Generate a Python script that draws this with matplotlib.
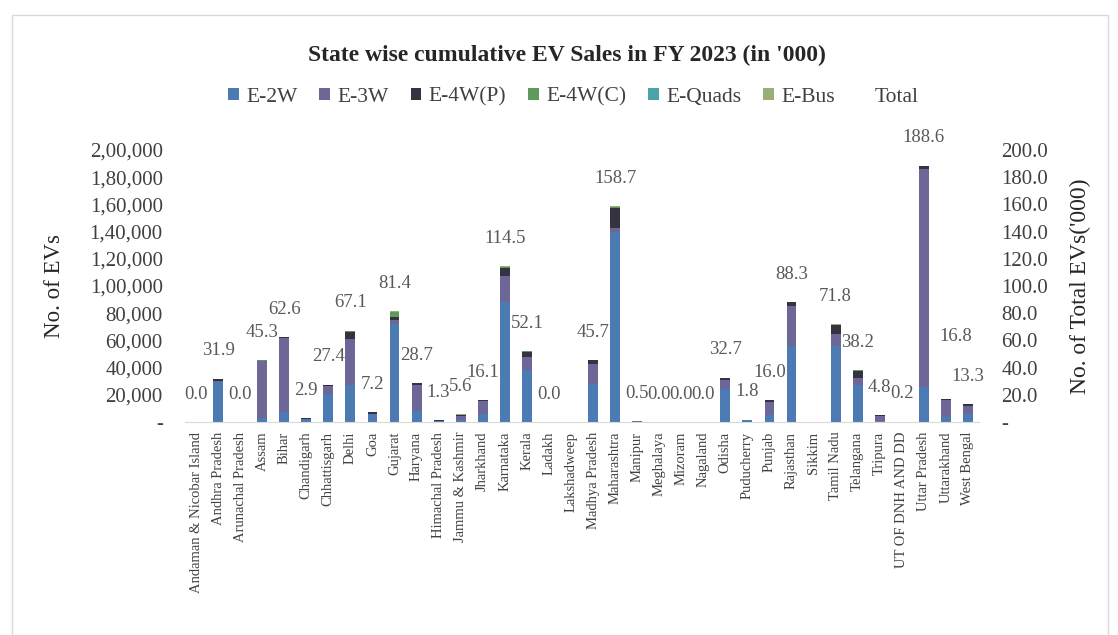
import matplotlib
matplotlib.use("Agg")
import matplotlib.pyplot as plt
from matplotlib.patches import Rectangle, Patch
from matplotlib.lines import Line2D
from matplotlib.ticker import FixedLocator, FuncFormatter
import numpy as np

plt.rcParams['font.family'] = ['Liberation Serif', 'DejaVu Serif']

states = [
    "Andaman & Nicobar Island", "Andhra Pradesh", "Arunachal Pradesh", "Assam",
    "Bihar", "Chandigarh", "Chhattisgarh", "Delhi", "Goa", "Gujarat", "Haryana",
    "Himachal Pradesh", "Jammu & Kashmir", "Jharkhand", "Karnataka", "Kerala",
    "Ladakh", "Lakshadweep", "Madhya Pradesh", "Maharashtra", "Manipur",
    "Meghalaya", "Mizoram", "Nagaland", "Odisha", "Puducherry", "Punjab",
    "Rajasthan", "Sikkim", "Tamil Nadu", "Telangana", "Tripura",
    "UT OF DNH AND DD", "Uttar Pradesh", "Uttarakhand", "West Bengal",
]

# Units sold per segment
e_2w = [8, 29300, 10, 2600, 7200, 2000, 20300, 27500, 5600, 72000, 8000,
        600, 1200, 6000, 88000, 38000, 10, 0, 28000, 140000, 300,
        10, 20, 10, 24000, 1500, 5000, 56000, 0, 56000, 27500, 600,
        150, 26000, 3500, 6000]
e_3w = [0, 1100, 0, 42000, 54500, 450, 6200, 33400, 150, 3000, 19100,
        100, 3500, 9500, 19000, 9800, 0, 0, 14500, 2600, 100,
        0, 0, 0, 7200, 100, 9900, 29500, 0, 9000, 5000, 4000,
        0, 159900, 12500, 6000]
e_4wp = [12, 1300, 20, 600, 800, 400, 800, 5600, 1400, 2400, 1400,
         550, 800, 550, 6400, 4000, 20, 0, 3000, 14600, 100,
         20, 10, 10, 1400, 200, 1000, 2500, 0, 6000, 5000, 200,
         50, 2500, 750, 1250]
e_4wc = [0, 100, 0, 50, 50, 0, 50, 400, 50, 3800, 100,
         0, 0, 50, 700, 200, 0, 0, 100, 900, 0,
         0, 0, 0, 50, 0, 0, 200, 0, 500, 400, 0,
         0, 100, 0, 0]
e_quads = [0] * 36
e_bus = [0, 100, 0, 50, 50, 50, 50, 200, 0, 200, 100,
         50, 100, 0, 400, 100, 0, 0, 100, 600, 0,
         0, 0, 0, 50, 0, 100, 100, 0, 300, 300, 0,
         0, 100, 50, 50]

# Total in thousands (None where no figure is reported)
total_k = [0.0, 31.9, 0.0, 45.3, 62.6, 2.9, 27.4, 67.1, 7.2, 81.4, 28.7,
           1.3, 5.6, 16.1, 114.5, 52.1, 0.0, None, 45.7, 158.7, 0.5,
           0.0, 0.0, 0.0, 32.7, 1.8, 16.0, 88.3, None, 71.8, 38.2, 4.8,
           0.2, 188.6, 16.8, 13.3]

series = [
    ("E-2W", e_2w, "#4C7AB2"),
    ("E-3W", e_3w, "#6C6797"),
    ("E-4W(P)", e_4wp, "#34333F"),
    ("E-4W(C)", e_4wc, "#5E9A5C"),
    ("E-Quads", e_quads, "#4BA3A8"),
    ("E-Bus", e_bus, "#9AAE78"),
]

left_ticks = list(range(0, 200001, 20000))
right_ticks = list(range(0, 201, 20))

W, H = 1118, 635
fig = plt.figure(figsize=(W / 100, H / 100), dpi=100)

# chart-area frame
fig.patches.append(Rectangle((12 / W, -0.01), (W - 22) / W, 1 - 15 / H + 0.01,
                             transform=fig.transFigure, fill=False,
                             edgecolor="#D9D9D9", linewidth=1.0))

ax = fig.add_axes([185 / W, 1 - 422 / H, 794 / W, 272 / H])
x = np.arange(len(states))
bottom = np.zeros(len(states))
for name, vals, col in series:
    v = np.array(vals, dtype=float)
    ax.bar(x, v, 0.45, bottom=bottom, color=col, label=name, linewidth=0)
    bottom += v

ax.set_xlim(-0.5, len(states) - 0.5)
ax.set_ylim(0, 200000)
ax.yaxis.set_major_locator(FixedLocator(left_ticks))


def indian_fmt(v, pos=None):
    if v == 0:
        return "-"
    v = int(round(v))
    s = str(v)
    if len(s) <= 3:
        return s
    last3 = s[-3:]
    rest = s[:-3]
    groups = []
    while len(rest) > 2:
        groups.insert(0, rest[-2:])
        rest = rest[:-2]
    if rest:
        groups.insert(0, rest)
    return ",".join(groups + [last3])


ax.yaxis.set_major_formatter(FuncFormatter(indian_fmt))
ax.set_xticks(x)
ax.set_xticklabels(states, rotation=90, fontsize=10.5, color="#404040")
ax.tick_params(axis="x", length=0, pad=7)
ax.tick_params(axis="y", length=0, pad=16, labelsize=15, labelcolor="#404040")
for s in ["top", "right", "left"]:
    ax.spines[s].set_visible(False)
ax.spines["bottom"].set_color("#D9D9D9")
ax.set_ylabel("No. of EVs", fontsize=16.5, color="#262626", labelpad=18)

ax2 = ax.twinx()
ax2.set_ylim(0, 200)
ax2.yaxis.set_major_locator(FixedLocator(right_ticks))
ax2.yaxis.set_major_formatter(FuncFormatter(lambda v, p: "-" if v == 0 else f"{v:.1f}"))
ax2.tick_params(axis="y", length=0, pad=16, labelsize=15, labelcolor="#404040")
for s in ["top", "right", "left", "bottom"]:
    ax2.spines[s].set_visible(False)
ax2.set_ylabel("No. of Total EVs('000)", fontsize=17, color="#262626", labelpad=16)

tot = np.array([np.nan if t is None else t for t in total_k], dtype=float)
ax2.plot(x, tot, linestyle="none", marker=None)
for xi, t in zip(x, total_k):
    if t is None:
        continue
    dx, dy = 0, 20
    if states[xi] == "Uttarakhand":
        dx, dy = 7, 45
    ax2.annotate(f"{t:.1f}", (xi, t), xytext=(dx, dy), textcoords="offset points",
                 ha="center", va="center", fontsize=13.5, color="#595959")

fig.text(0.507, 1 - 55 / H, "State wise cumulative EV Sales in FY 2023 (in '000)",
         ha="center", va="center", fontsize=17, fontweight="bold", color="#262626")

handles = [Patch(facecolor=c, edgecolor="none") for _, _, c in series]
labels = [n for n, _, _ in series]
handles.append(Line2D([], [], linestyle="none"))
labels.append("Total")
fig.legend(handles, labels, loc="center", bbox_to_anchor=(0.513, 1 - 97 / H),
           ncol=7, frameon=False, fontsize=15.5, handlelength=0.5, handleheight=0.5,
           handletextpad=0.35, columnspacing=1.0, labelcolor="#404040")

fig.savefig("out.png", dpi=100, facecolor="white")
